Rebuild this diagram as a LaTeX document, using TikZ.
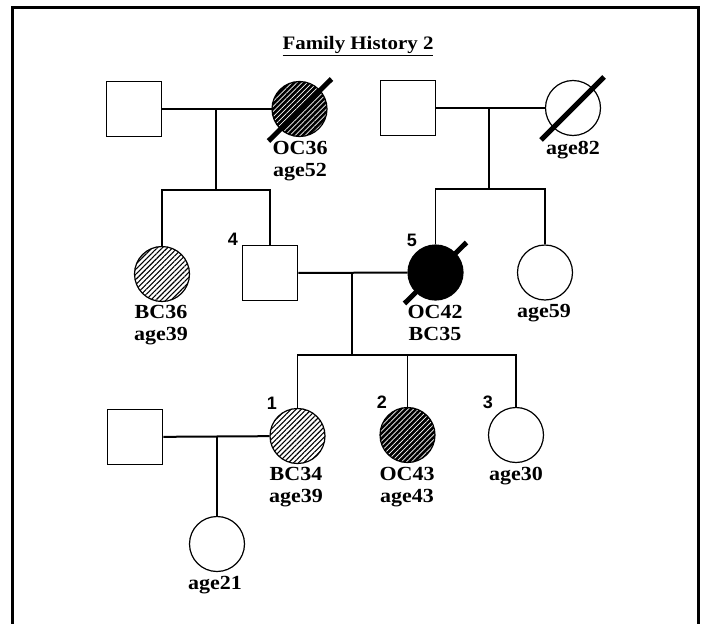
\documentclass[tikz,border=0pt]{standalone}
\usepackage{fontspec}
\setmainfont[FakeStretch=1.1]{Liberation Serif}
\newfontfamily\numfont{Liberation Sans}
\usetikzlibrary{patterns.meta,calc}
\begin{document}
\begin{tikzpicture}[x=1pt,y=-1pt,
  male/.style={draw,line width=1.6pt,minimum size=55pt,inner sep=0pt,rectangle},
  female/.style={draw,line width=1.2pt,minimum size=55pt,inner sep=0pt,circle},
  lighthatch/.style={pattern={Lines[angle=45,distance=3.6pt,line width=1.1pt]},pattern color=black},
  darkhatch/.style={preaction={fill=black},pattern={Lines[angle=45,distance=3.6pt,line width=0.7pt]},pattern color=white},
  rel/.style={line width=1.2pt},
  thickrel/.style={line width=2pt},
  deceased/.style={line width=5pt},
  lbl/.style={font=\fontsize{20}{22}\selectfont\bfseries,align=center,inner sep=0pt,anchor=north},
  num/.style={font=\fontsize{18}{18}\selectfont\numfont\bfseries,inner sep=0pt}]
\useasboundingbox (0,0) rectangle (705,624);
\draw[line width=3pt] (12,624) -- (12,7) -- (698,7) -- (698,624);
% title
\node[font=\fontsize{19}{19}\selectfont\bfseries,inner sep=0pt] (title) at (358,46) {\underline{Family History 2}};
% generation 1
\node[male] (gfA) at (134,109) {};
\node[female,darkhatch] (gmA) at (299.5,109) {};
\node[male] (gfB) at (408,108) {};
\node[female] (gmB) at (573,108) {};
\draw[deceased] ($(gmA)+(-31,32)$) -- ($(gmA)+(32,-30)$);
\draw[deceased] ($(gmB)+(-32,32)$) -- ($(gmB)+(31,-31)$);
\node[lbl] (lgmA) at (300,141) {OC36\\age52};
\node[lbl] (lgmB) at (573,141) {age82};
\draw[rel] (gfA) -- (gmA);
\draw[rel] (gfB) -- (gmB);
\coordinate (mA) at (216,109);
\coordinate (sA) at (216,190);
\coordinate (mB) at (489,108);
\coordinate (sB) at (489,189);
\draw[rel] (mA) -- (sA);
\draw[rel] (mB) -- (sB);
% generation 2
\node[female,lighthatch] (aunt) at (162,274) {};
\node[male] (p4) at (270,273) {};
\node[female,fill=black] (p5) at (435.5,272.5) {};
\node[female] (aunt2) at (545,272.5) {};
\draw[deceased] ($(p5)+(-31,31)$) -- ($(p5)+(31,-30)$);
\draw[rel] (aunt.north) |- (sA) -| (p4.north);
\draw[rel] (p5.north) |- (sB) -| (aunt2.north);
\node[lbl] (launt) at (161,305) {BC36\\age39};
\node[lbl] (lp5) at (435,305) {OC42\\BC35};
\node[lbl] (launt2) at (544,304) {age59};
\node[num] (n4) at (233,239) {4};
\node[num] (n5) at (412,240) {5};
\draw[thickrel] (p4) -- (p5);
\coordinate (m45) at (352,274);
\coordinate (s45) at (352,355);
\draw[rel] (m45) -- (s45);
% generation 3
\node[female,lighthatch] (c1) at (297.5,436) {};
\node[female,darkhatch] (c2) at (407.5,435) {};
\node[female] (c3) at (516,435) {};
\node[male] (sp1) at (135,437) {};
\node[female] (gc) at (217,544) {};
\draw[rel] (c1.north) |- (s45) -| (c3.north);
\draw[rel] (c2.north) -- (c2.north |- s45);
\draw[thickrel] (sp1) -- (c1);
\coordinate (m1) at (217,437);
\draw[rel] (m1) -- (gc.north);
\node[lbl] (lc1) at (296,467) {BC34\\age39};
\node[lbl] (lc2) at (407,467) {OC43\\age43};
\node[lbl] (lc3) at (516,467) {age30};
\node[lbl] (lgc) at (215,576) {age21};
\node[num] (n1) at (272,403) {1};
\node[num] (n2) at (382,402) {2};
\node[num] (n3) at (488,402) {3};
\end{tikzpicture}
\end{document}
